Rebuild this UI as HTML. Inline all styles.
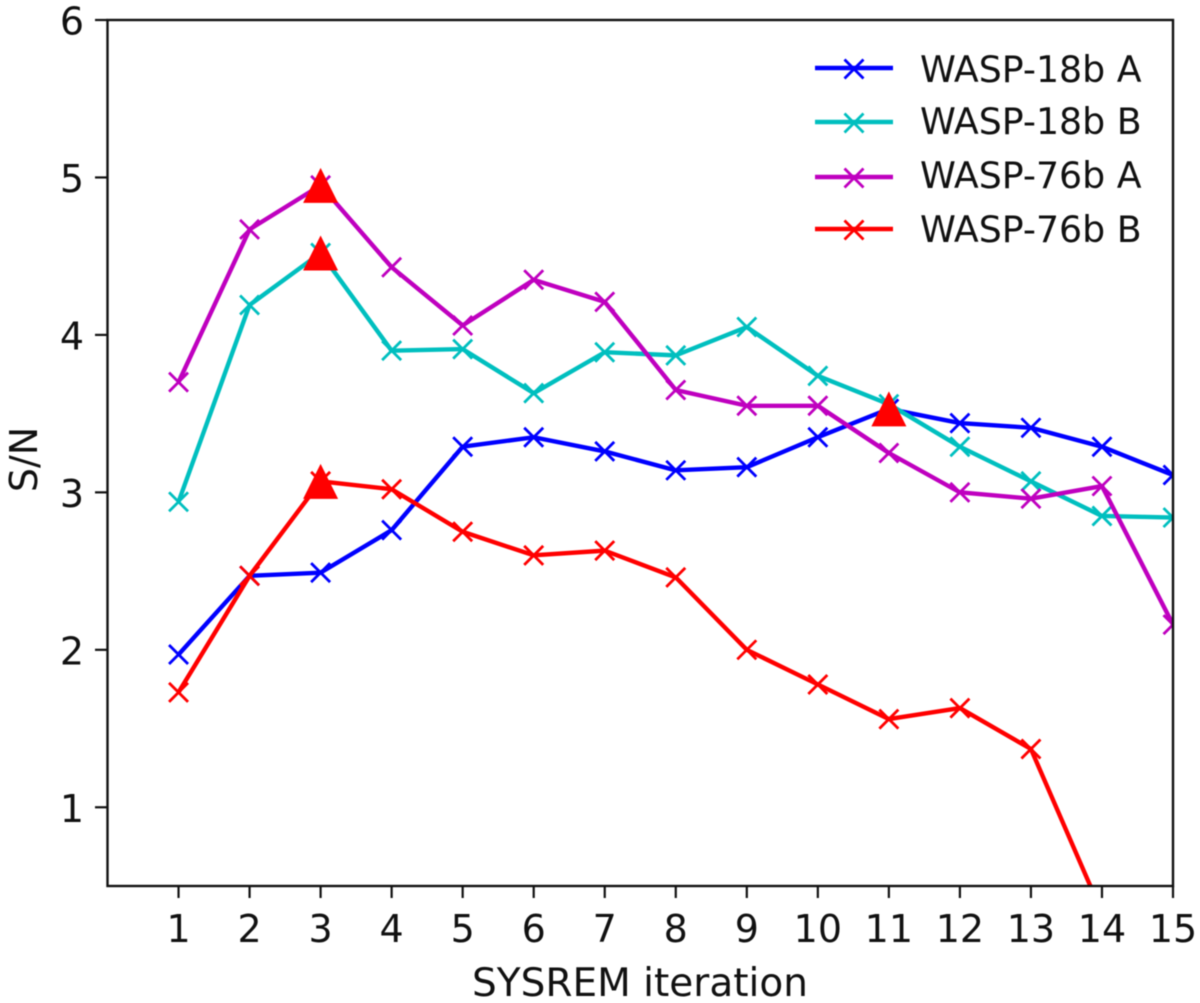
<!DOCTYPE html>
<html>
<head>
<meta charset="utf-8">
<title>SYSREM S/N chart</title>
<style>
html,body{margin:0;padding:0;background:#fff;width:1200px;height:1003px;overflow:hidden}
svg{display:block;filter:blur(.5px)}
text{font-family:"DejaVu Sans","Liberation Sans",sans-serif;fill:#111}
</style>
</head>
<body>
<svg id="chart" xmlns="http://www.w3.org/2000/svg" width="1200" height="1003" viewBox="0 0 1200 1003">
<defs><clipPath id="plot-clip"><rect x="107.5" y="20" width="1065.5" height="866"/></clipPath></defs>
<rect x="0" y="0" width="1200" height="1003" fill="#fff"/>
<g id="series-layer" clip-path="url(#plot-clip)"></g>
<g id="peak-layer" clip-path="url(#plot-clip)"></g>
<rect x="107.5" y="20" width="1065.5" height="866" fill="none" stroke="#111" stroke-width="2.4"/>
<g id="tick-layer"></g>
<g id="legend-layer"></g>
<text x="640" y="996" font-size="39" text-anchor="middle">SYSREM iteration</text>
<text transform="translate(37,459.5) rotate(-90)" font-size="38" text-anchor="middle">S/N</text>
</svg>
<script>
const iterations = [1,2,3,4,5,6,7,8,9,10,11,12,13,14,15];
const yTicks = [1,2,3,4,5,6];
const seriesNames = ["WASP-18b A","WASP-18b B","WASP-76b A","WASP-76b B"];
const seriesColors = ["#0000ff","#00bfbf","#bf00bf","#ff0000"];
const wasp18bA = [1.97,2.47,2.49,2.76,3.29,3.35,3.26,3.14,3.16,3.35,3.53,3.44,3.41,3.29,3.11];
const wasp18bB = [2.94,4.19,4.52,3.90,3.91,3.63,3.89,3.87,4.05,3.74,3.56,3.29,3.07,2.85,2.84];
const wasp76bA = [3.70,4.67,4.95,4.43,4.06,4.35,4.21,3.65,3.55,3.55,3.25,3.00,2.96,3.04,2.16];
const wasp76bB = [1.73,2.47,3.07,3.02,2.75,2.60,2.63,2.46,2.00,1.78,1.56,1.63,1.37,0.33,0.10];
const peakIterations = [3,3,11,3];
const peakValues = [4.95,4.52,3.53,3.07];

const allSeries = [wasp18bA,wasp18bB,wasp76bA,wasp76bB];
const NS = "http://www.w3.org/2000/svg";
const xScale = v => 107.5 + (v - 0) * (1173 - 107.5) / 15;
const yScale = v => 886 - (v - 0.5) * (886 - 20) / 5.5;
function mk(tag, parent, attrs) {
  const e = document.createElementNS(NS, tag);
  for (const k in attrs) e.setAttribute(k, attrs[k]);
  parent.appendChild(e);
  return e;
}
function cross(parent, cx, cy, color) {
  const r = 9.5;
  return mk("path", parent, {d:`M${cx-r} ${cy-r}L${cx+r} ${cy+r}M${cx-r} ${cy+r}L${cx+r} ${cy-r}`, fill:"none", stroke:color, "stroke-width":2.8});
}
const seriesLayer = document.getElementById("series-layer");
allSeries.forEach((vals, s) => {
  const g = mk("g", seriesLayer, {});
  
  
  const line = mk("polyline", g, {points: vals.map((v,i) => xScale(iterations[i]) + "," + yScale(v)).join(" "), fill:"none", stroke:seriesColors[s], "stroke-width":4.4, "stroke-linejoin":"round"});
  
  
  vals.forEach((v,i) => {
    const m = cross(g, xScale(iterations[i]), yScale(v), seriesColors[s]);
    
    
  });
});
const peakLayer = document.getElementById("peak-layer");
peakValues.forEach((v,i) => {
  const cx = xScale(peakIterations[i]), cy = yScale(v);
  const t = mk("polygon", peakLayer, {points:`${cx},${cy-17.5} ${cx+17.5},${cy+17.5} ${cx-17.5},${cy+17.5}`, fill:"#ff0000"});
  
  
});
const tickLayer = document.getElementById("tick-layer");
iterations.forEach(v => {
  const x = xScale(v);
  const tk = mk("line", tickLayer, {x1:x, x2:x, y1:886, y2:898, stroke:"#111", "stroke-width":2.2});
  
  
  const lb = mk("text", tickLayer, {x:x, y:942, "font-size":38, "text-anchor":"middle"});
  lb.textContent = v;
  
  
});
yTicks.forEach(v => {
  const y = yScale(v);
  const tk = mk("line", tickLayer, {x1:95, x2:107.5, y1:y, y2:y, stroke:"#111", "stroke-width":2.2});
  
  
  const lb = mk("text", tickLayer, {x:84, y:y+14.5, "font-size":38, "text-anchor":"end"});
  lb.textContent = v;
  
  
});
const legendLayer = document.getElementById("legend-layer");
const legendRows = [68,122,177,229];
const legendBaselines = [82,134,188,242];
seriesNames.forEach((n,i) => {
  const y = legendRows[i];
  const ln = mk("line", legendLayer, {x1:815, x2:893, y1:y, y2:y, stroke:seriesColors[i], "stroke-width":4.4});
  
  
  const m = cross(legendLayer, 854, y+1, seriesColors[i]);
  
  
  const t = mk("text", legendLayer, {x:920, y:legendBaselines[i], "font-size":36.3});
  t.textContent = n;
  
  
});
</script>
</body>
</html>
